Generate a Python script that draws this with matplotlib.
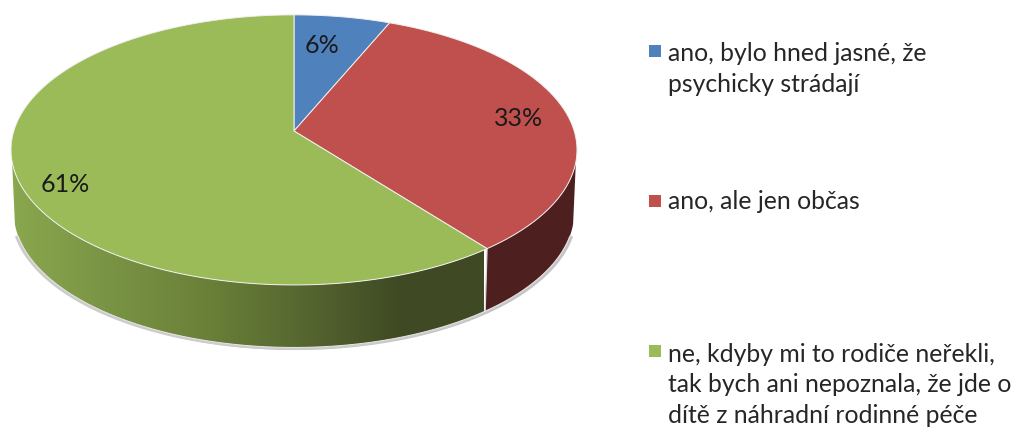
import numpy as np
import matplotlib
matplotlib.use('Agg')
import matplotlib.pyplot as plt
from matplotlib.colors import LinearSegmentedColormap
from matplotlib.patches import Polygon, Rectangle

plt.rcParams['font.family'] = ['Lato', 'DejaVu Sans']

# podily
categories = ['ano, bylo hned jasné, že\npsychicky strádají',
              'ano, ale jen občas',
              'ne, kdyby mi to rodiče neřekli,\ntak bych ani nepoznala, že jde o\ndítě z náhradní rodinné péče']
values = [6.3, 33.2, 60.5]
colors = ['#4f81bd', '#c0504d', '#9bbb59']

# stred, polomery a perspektiva kolace (v pixelech)
cx, cy = 294, 131
sx, sy = 280.2, 132.4
k = 0.14
depth = 62.5
bottom_scale = 0.99  # spodni hrana je o neco uzsi


def project(theta):
    # theta merena od vrcholu po smeru hodinovych rucicek
    u, v = np.sin(theta), np.cos(theta)
    w = 1 + k * v
    return cx + sx * u / w, cy - sy * v / w


def bottom(x, y):
    return cx + (x - cx) * bottom_scale, y + depth


fig = plt.figure(figsize=(10.13, 4.28), dpi=100)
ax = fig.add_axes([0, 0, 1, 1])

edges = 2 * np.pi * np.cumsum([0] + values) / sum(values)

# bocni stena je videt jen v dolni casti kolace
theta_right = np.radians(103)
theta_left = np.radians(257)


def wall(t0, t1):
    t = np.linspace(t0, t1, 200)
    x, y = project(t)
    xb, yb = bottom(x, y)
    return np.concatenate([np.column_stack([x, y]),
                           np.column_stack([xb[::-1], yb[::-1]])])


# jemny stin pod okrajem
t = np.linspace(np.radians(108), np.radians(252), 300)
x, y = project(t)
xb, yb = bottom(x, y)
ax.plot(xb + 1.5, yb + 1.2, color='#c4c4c4', lw=2, zorder=1)
ax.plot(xb - 1.5, yb + 1, color='#cccccc', lw=2, zorder=1)

# cervena stena
red_wall = Polygon(wall(theta_right, edges[2]), closed=True, fc='#4d1f1e', ec='none', zorder=2)
ax.add_patch(red_wall)

# zelena stena s prechodem
green_wall = Polygon(wall(edges[2], theta_left), closed=True, fc='none', ec='none', zorder=2)
ax.add_patch(green_wall)
cmap = LinearSegmentedColormap.from_list('side', [(0, '#8aa84e'), (0.2, '#7a9445'), (0.42, '#6a8038'),
                                                  (0.62, '#566630'), (0.82, '#3f4a24'), (1, '#3f4a24')])
img = ax.imshow(np.linspace(0, 1, 256).reshape(1, -1), cmap=cmap, extent=(10, 484, 360, 160),
                aspect='auto', zorder=2)
img.set_clip_path(green_wall)

# bile linky na stenach
x_e, y_e = project(np.array([edges[2]]))
xb_e, yb_e = bottom(x_e, y_e)
ax.plot([x_e[0], xb_e[0]], [y_e[0], yb_e[0]], color='#d8d8d8', lw=0.9, zorder=3)
ax.plot(xb, yb, color='#e8e8e8', lw=0.7, zorder=3)

# horni plocha
for i in range(len(values)):
    t = np.linspace(edges[i], edges[i + 1], 200)
    x, y = project(t)
    pts = np.column_stack([np.r_[cx, x], np.r_[cy, y]])
    ax.add_patch(Polygon(pts, closed=True, fc=colors[i], ec='#f0f0f0', lw=0.7, zorder=4))

# popisky procent
label_pos = [(322, 45), (519, 118), (65, 184)]
for val, (lx, ly) in zip(values, label_pos):
    ax.text(lx, ly, '%d%%' % int(val + 0.5), fontsize=18, color='#1a1a1a', ha='center', va='center', zorder=5)

# legenda
legend_y = [51, 201, 351]
legend_text_y = [69, 201, 385]
for name, col, my, ty in zip(categories, colors, legend_y, legend_text_y):
    ax.add_patch(Rectangle((649, my - 6), 12, 12, fc=col, ec='none'))
    ax.text(668, ty, name, fontsize=17.8, color='#262626', va='center', ha='left', linespacing=1.42)

ax.set_xlim(0, 1013)
ax.set_ylim(428, 0)
ax.axis('off')
fig.savefig('out.png', dpi=100)
